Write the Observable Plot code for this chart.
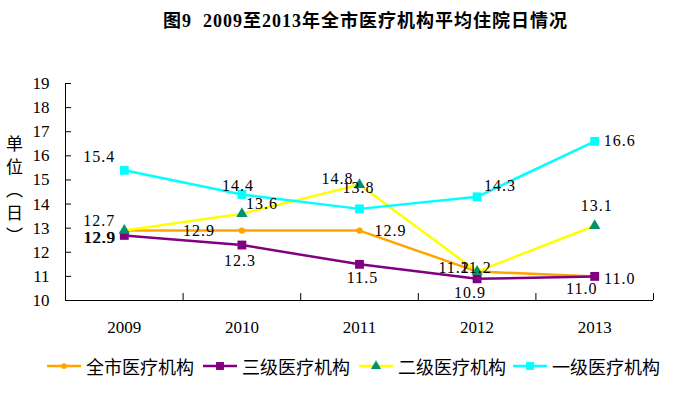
<!DOCTYPE html>
<html><head><meta charset="utf-8">
<script src="https://cdn.jsdelivr.net/npm/d3@7"></script>
<script src="https://cdn.jsdelivr.net/npm/@observablehq/plot@0.6"></script>
<style>
body{margin:0;background:#fff;}
#wrap{position:relative;width:699px;height:393px;overflow:hidden;background:#fff;}
#title{position:absolute;left:163px;top:11px;white-space:nowrap;font-family:"Liberation Serif","Noto Sans CJK SC",serif;font-weight:bold;font-size:18px;line-height:20px;letter-spacing:1px;color:#000;}
#ylabel{position:absolute;left:6px;top:135px;writing-mode:vertical-rl;font-family:"Noto Sans CJK SC",sans-serif;font-size:17px;letter-spacing:6px;line-height:17px;color:#000;}
#chart{position:absolute;left:0;top:0;}
#legend{position:absolute;left:0;top:354px;width:699px;height:24px;font-family:"Noto Sans CJK SC",sans-serif;font-size:18px;color:#000;}
.item{position:absolute;top:0;height:24px;display:flex;align-items:center;white-space:nowrap;}
.item svg{margin-right:5px;}
.dlabel text{letter-spacing:1px;}
</style></head><body>
<div id="wrap">
<div id="chart"></div>
<div id="title">图9&nbsp;&nbsp;2009至2013年全市医疗机构平均住院日情况</div>
<div id="ylabel">单位（日）</div>
<div id="legend"></div>
</div>
<script>
const years = [2009, 2010, 2011, 2012, 2013];
const seriesNames = ["全市医疗机构", "三级医疗机构", "二级医疗机构", "一级医疗机构"];
const cityValues  = [12.9, 12.9, 12.9, 11.2, 11.0];
const tier3Values = [12.7, 12.3, 11.5, 10.9, 11.0];
const tier2Values = [12.9, 13.6, 14.8, 11.2, 13.1];
const tier1Values = [15.4, 14.4, 13.8, 14.3, 16.6];
const yTicks = [10, 11, 12, 13, 14, 15, 16, 17, 18, 19];

// styles (not data)
const lineColors = ["#FFA500", "#800080", "#FFFF00", "#00FFFF"];
const markColors = ["#FFA500", "#800080", "#00936B", "#00FFFF"];
const markSymbols = ["circle", "square", "triangle", "square"];
const markR = [3.2, 5, 4.2, 5];
// label offsets [dx, dy] per series per year
const labelOffsets = [
  [[-25, 7], [-43, 0], [31, 0], [-23, -4], [25, 2]],
  [[-25, -15], [-2, 16], [3, 14], [-7, 14], [-13, 12]],
  [[-24, 7], [20, -10], [-22, -6], [-1, -4], [2, -20]],
  [[-25, -13], [-4, -9], [-1, -21], [23, -11], [25, 0]]
];

const allValues = [cityValues, tier3Values, tier2Values, tier1Values];
const rows = [];
allValues.forEach((vals, s) => vals.forEach((v, i) => rows.push({series: seriesNames[s], s, i, year: years[i], value: v})));

const boundaries = [2008.5, ...years.map(y => y + 0.5)];

const marks = [
  Plot.ruleY([10], {stroke: "#000", strokeWidth: 1}),
  Plot.ruleX([2008.5], {stroke: "#000", strokeWidth: 1}),
  Plot.tickY(yTicks, {y: d => d, stroke: "#000", insetRight: 582}),
  Plot.tickX(boundaries, {x: d => d, stroke: "#000", insetTop: 210}),
  Plot.axisY({ticks: yTicks, tickSize: 0, tickPadding: 16, fontSize: 17, tickFormat: d => String(d), label: null}),
  Plot.axisX({ticks: years, tickSize: 0, tickPadding: 20, fontSize: 17, tickFormat: d => String(d), label: null})
];
seriesNames.forEach((name, s) => {
  const data = rows.filter(r => r.s === s);
  marks.push(Plot.line(data, {x: "year", y: "value", stroke: lineColors[s], strokeWidth: 2.5}));
  marks.push(Plot.dot(data, {x: "year", y: "value", symbol: markSymbols[s], r: markR[s], fill: markColors[s], stroke: "none"}));
});
rows.forEach(r => {
  const [dx, dy] = labelOffsets[r.s][r.i];
  marks.push(Plot.text([r], {x: "year", y: "value", text: d => d.value.toFixed(1), dx, dy, fontSize: 16, fill: "#000", fontFamily: "Liberation Serif", className: "dlabel"}));
});

const chart = Plot.plot({
  width: 699, height: 393,
  marginTop: 83, marginBottom: 93, marginLeft: 65, marginRight: 46,
  x: {domain: [2008.5, 2013.5]},
  y: {domain: [10, 19]},
  style: {fontFamily: "Liberation Serif", color: "#000", background: "transparent"},
  marks
});
document.getElementById("chart").appendChild(chart);

// legend
const legendX = [47, 203, 359, 513];
const legend = document.getElementById("legend");
seriesNames.forEach((name, s) => {
  const item = document.createElement("div");
  item.className = "item";
  item.style.left = legendX[s] + "px";
  const svg = d3.create("svg").attr("width", 34).attr("height", 14);
  svg.append("line").attr("x1", 0).attr("x2", 34).attr("y1", 7).attr("y2", 7).attr("stroke", lineColors[s]).attr("stroke-width", 2.5);
  const sym = d3.symbol().type(markSymbols[s] === "circle" ? d3.symbolCircle : markSymbols[s] === "square" ? d3.symbolSquare : d3.symbolTriangle).size(Math.PI * markR[s] * markR[s] * 0.8);
  svg.append("path").attr("d", sym()).attr("transform", "translate(17,7)").attr("fill", markColors[s]);
  item.appendChild(svg.node());
  const t = document.createElement("span");
  t.textContent = name;
  item.appendChild(t);
  legend.appendChild(item);
});
</script>
</body></html>
